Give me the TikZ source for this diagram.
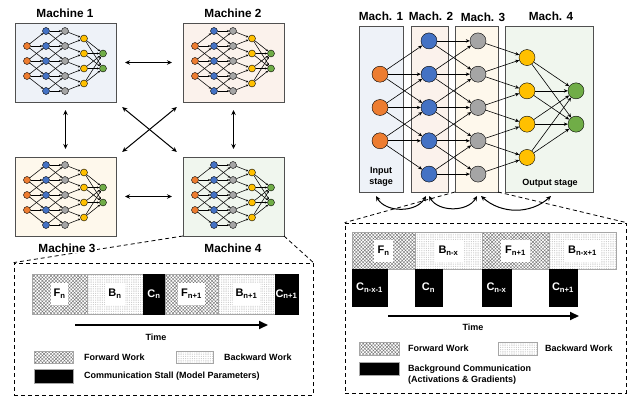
\documentclass[tikz,border=0pt]{standalone}
\usepackage{fontspec}
\setmainfont{Liberation Sans}
\usepackage{tikz}
\usetikzlibrary{arrows.meta, positioning, patterns.meta}

\definecolor{nOrange}{HTML}{ED7D31}
\definecolor{nBlue}{HTML}{4472C4}
\definecolor{nGray}{HTML}{A5A5A5}
\definecolor{nYellow}{HTML}{FFC000}
\definecolor{nGreen}{HTML}{70AD47}
\definecolor{bgBlue}{HTML}{EEF2F8}
\definecolor{bgPink}{HTML}{FBF2EC}
\definecolor{bgYellow}{HTML}{FEF8EC}
\definecolor{bgGreen}{HTML}{F0F6EE}
\definecolor{boxLine}{HTML}{505050}

\tikzset{
  neuron/.style={circle, draw=black, line width=0.4pt, inner sep=0pt},
  smalllink/.style={-{Stealth[length=2.4pt,width=2.2pt]}, line width=0.55pt},
  biglink/.style={-{Stealth[length=4pt,width=3.5pt]}, line width=0.6pt},
}

% one network: name prefix, origin, column step, row step, node size, link style
\newcommand{\drawnet}[6]{%
  \begin{scope}[shift={#2}, x=#3, y=-#4]
    \foreach \r [count=\i] in {-1,0,1}
      \node[neuron, fill=nOrange, minimum size=#5] (#1o\i) at (0,\r) {};
    \foreach \r [count=\i] in {-2,...,2}
      \node[neuron, fill=nBlue, minimum size=#5] (#1b\i) at (1,\r) {};
    \foreach \r [count=\i] in {-2,...,2}
      \node[neuron, fill=nGray, minimum size=#5] (#1g\i) at (2,\r) {};
    \foreach \r [count=\i] in {-1.5,-0.5,0.5,1.5}
      \node[neuron, fill=nYellow, minimum size=#5] (#1y\i) at (3,\r) {};
    \foreach \r [count=\i] in {-0.5,0.5}
      \node[neuron, fill=nGreen, minimum size=#5] (#1n\i) at (4,\r) {};
    \foreach \i in {1,2,3}
      \foreach \d in {0,1,2} {
        \pgfmathtruncatemacro\j{\i+\d}
        \draw[#6] (#1o\i) -- (#1b\j);
      }
    \foreach \i in {1,...,5}
      \foreach \j in {1,...,5} {
        \pgfmathtruncatemacro\gap{abs(\i-\j)}
        \ifnum\gap<2 \draw[#6] (#1b\i) -- (#1g\j); \fi
      }
    \foreach \i in {1,...,5}
      \foreach \j in {1,...,4} {
        \pgfmathtruncatemacro\gap{\i-\j}
        \ifnum\gap>-1 \ifnum\gap<2 \draw[#6] (#1g\i) -- (#1y\j); \fi\fi
      }
    \foreach \i in {1,...,4}
      \foreach \j in {1,2}
        \draw[#6] (#1y\i) -- (#1n\j);
  \end{scope}}

\begin{document}
\begin{tikzpicture}[x=1pt, y=-1pt,
    title/.style={font=\bfseries\fontsize{11.8}{13}\selectfont, inner sep=1pt},
    txt/.style={font=\bfseries\fontsize{9}{11}\selectfont, inner sep=1pt},
    mbox/.style={draw=boxLine, line width=0.9pt, inner sep=0pt, outer sep=0pt,
      minimum width=101pt, minimum height=79pt},
    stagebox/.style={draw=boxLine, line width=0.9pt, inner sep=0pt, outer sep=0pt,
      minimum height=166pt},
    biarr/.style={{Stealth[length=5pt,width=4.5pt]}-{Stealth[length=5pt,width=4.5pt]},
      line width=1pt},
    zoomline/.style={dash pattern=on 4pt off 3pt, line width=0.8pt},
    seg/.style={draw=gray!70, line width=0.4pt, inner sep=0pt, outer sep=0pt},
    fwd/.style={seg, pattern={Hatch[angle=45,distance=2.4pt,line width=0.4pt]},
      pattern color=black!55},
    bwd/.style={seg, pattern={Dots[distance=1.8pt,radius=0.32pt]}, pattern color=black!45},
    stall/.style={seg, draw=black, fill=black, text=white,
      font=\bfseries\fontsize{11}{12}\selectfont},
    seglab/.style={fill=white, inner sep=3pt, minimum height=22pt,
      font=\bfseries\fontsize{11}{12}\selectfont},
    timearr/.style={-{Triangle[length=9pt,width=8pt]}, line width=2pt},
  ]
  \useasboundingbox (0,0) rectangle (631,398);

  % ---- left: four machines, data parallel
  \node[mbox, fill=bgBlue]   (m1) at (65.5,62.5)  {};
  \node[mbox, fill=bgPink]   (m2) at (233.5,62.5) {};
  \node[mbox, fill=bgYellow] (m3) at (65.5,196.5) {};
  \node[mbox, fill=bgGreen]  (m4) at (233.5,196.5) {};
  \drawnet{sa}{(27,61)}{19pt}{15pt}{7pt}{smalllink}
  \drawnet{sb}{(195,61)}{19pt}{15pt}{7pt}{smalllink}
  \drawnet{sc}{(27,195)}{19pt}{15pt}{7pt}{smalllink}
  \drawnet{sd}{(195,195)}{19pt}{15pt}{7pt}{smalllink}
  \node[title] (m1lab) at (65,13)  {Machine 1};
  \node[title] (m2lab) at (233,13) {Machine 2};

  \draw[biarr, shorten <=9pt, shorten >=11pt] (m1) -- (m2);
  \draw[biarr, shorten <=9pt, shorten >=11pt] (m3) -- (m4);
  \draw[biarr, shorten <=8pt, shorten >=8pt] (m1) -- (m3);
  \draw[biarr, shorten <=8pt, shorten >=8pt] (m2) -- (m4);
  \draw[biarr, shorten <=8pt, shorten >=8pt] (m1.south east) -- (m4.north west);
  \draw[biarr, shorten <=8pt, shorten >=8pt] (m2.south west) -- (m3.north east);

  % zoom on machine 4
  \node[draw, zoomline, minimum width=299pt, minimum height=132pt] (lzoom) at (163.5,329) {};
  \draw[zoomline] (m4.south west) -- (lzoom.north west);
  \draw[zoomline] (m4.south east) -- (lzoom.north east);
  \node[title, fill=white] (m3lab) at (67,248)  {Machine 3};
  \node[title, fill=white] (m4lab) at (233,248) {Machine 4};

  \node[fwd,   minimum width=55pt, minimum height=40pt, anchor=west] (lf1) at (32,294) {};
  \node[bwd,   minimum width=56pt, minimum height=40pt, right=0pt of lf1] (lb1) {};
  \node[stall, minimum width=22pt, minimum height=40pt, right=0pt of lb1] (lc1) {C\textsubscript{n}};
  \node[fwd,   minimum width=53pt, minimum height=40pt, right=0pt of lc1] (lf2) {};
  \node[bwd,   minimum width=57pt, minimum height=40pt, right=0pt of lf2] (lb2) {};
  \node[stall, minimum width=23pt, minimum height=40pt, right=0pt of lb2] (lc2) {C\textsubscript{n+1}};
  \node[seglab] (lf1t) at (lf1) {F\textsubscript{n}};
  \node[seglab] (lb1t) at (lb1) {B\textsubscript{n}};
  \node[seglab] (lf2t) at (lf2) {F\textsubscript{n+1}};
  \node[seglab] (lb2t) at (lb2) {B\textsubscript{n+1}};

  \coordinate (lt0) at (75,325);
  \coordinate (lt1) at (268,325);
  \draw[timearr] (lt0) -- (lt1);
  \node[txt] (ltime) at (156,337) {Time};

  \node[fwd, minimum width=39pt, minimum height=12pt] (lkf) at (53.5,357) {};
  \node[txt, anchor=west] (lkft) at (83,357) {Forward Work};
  \node[bwd, minimum width=37pt, minimum height=12pt] (lkb) at (194.5,357) {};
  \node[txt, anchor=west] (lkbt) at (223,357) {Backward Work};
  \node[seg, fill=black, minimum width=39pt, minimum height=14pt] (lkc) at (53.5,376) {};
  \node[txt, anchor=west] (lkct) at (83,376) {Communication Stall (Model Parameters)};

  % ---- right: one network split into pipeline stages
  \node[stagebox, fill=bgBlue,   minimum width=44pt] (r1) at (381,109)   {};
  \node[stagebox, fill=bgPink,   minimum width=37pt] (r2) at (429.5,109) {};
  \node[stagebox, fill=bgYellow, minimum width=43pt] (r3) at (476.5,109) {};
  \node[stagebox, fill=bgGreen,  minimum width=88pt] (r4) at (549,109)   {};
  \drawnet{bn}{(380,107.5)}{49pt}{33.3pt}{16pt}{biglink}
  \node[title] (r1lab) at (381,16) {Mach. 1};
  \node[title] (r2lab) at (431,16) {Mach. 2};
  \node[title] (r3lab) at (483,17) {Mach. 3};
  \node[title] (r4lab) at (551,16) {Mach. 4};
  \node[txt, align=center] (inlab) at (381,177) {Input\\stage};
  \node[txt] (outlab) at (550,183) {Output stage};

  % zoom on the stages
  \node[draw, zoomline, minimum width=281pt, minimum height=170pt] (rzoom) at (485.5,308) {};
  \draw[zoomline] (r3.south west) -- (rzoom.north west);
  \draw[zoomline] (r3.south east) -- (rzoom.north east);

  \coordinate (a1) at (376,196);
  \coordinate (a2) at (426,196);
  \coordinate (a3) at (429,196);
  \coordinate (a4) at (477,196);
  \coordinate (a5) at (481,196);
  \coordinate (a6) at (551,196);
  \draw[biarr] (a1) to[bend right=60] (a2);
  \draw[biarr] (a3) to[bend right=60] (a4);
  \draw[biarr] (a5) to[bend right=42] (a6);

  \node[fwd, minimum width=63pt, minimum height=37pt, anchor=west] (rf1) at (352,250.5) {};
  \node[bwd, minimum width=67pt, minimum height=37pt, right=0pt of rf1] (rb1) {};
  \node[fwd, minimum width=67pt, minimum height=37pt, right=0pt of rb1] (rf2) {};
  \node[bwd, minimum width=67pt, minimum height=37pt, right=0pt of rf2] (rb2) {};
  \node[seglab, inner sep=4pt] (rf1t) at (rf1) {F\textsubscript{n}};
  \node[seglab, inner sep=4pt] (rb1t) at (rb1) {B\textsubscript{n-x}};
  \node[seglab, inner sep=4pt] (rf2t) at (rf2) {F\textsubscript{n+1}};
  \node[seglab, inner sep=4pt] (rb2t) at (rb2) {B\textsubscript{n-x+1}};
  \node[stall, minimum width=35pt, minimum height=37pt, anchor=north west] (rc1) at (rf1.south west) {C\textsubscript{n-x-1}};
  \node[stall, minimum width=27pt, minimum height=37pt, anchor=north west] (rc2) at (rb1.south west) {C\textsubscript{n}};
  \node[stall, minimum width=29pt, minimum height=37pt, anchor=north west] (rc3) at (rf2.south west) {C\textsubscript{n-x}};
  \node[stall, minimum width=28pt, minimum height=37pt, anchor=north west] (rc4) at (rb2.south west) {C\textsubscript{n+1}};

  \coordinate (rt0) at (388,316);
  \coordinate (rt1) at (579,316);
  \draw[timearr] (rt0) -- (rt1);
  \node[txt] (rtime) at (473,327) {Time};

  \node[fwd, minimum width=40pt, minimum height=13pt] (rkf) at (379,348.5) {};
  \node[txt, anchor=west] (rkft) at (407,348) {Forward Work};
  \node[bwd, minimum width=39pt, minimum height=13pt] (rkb) at (517.5,348.5) {};
  \node[txt, anchor=west] (rkbt) at (544,348) {Backward Work};
  \node[seg, fill=black, minimum width=40pt, minimum height=13pt] (rkc) at (379,368.5) {};
  \node[txt, anchor=west, align=left] (rkct) at (407,375)
    {Background Communication\\(Activations \& Gradients)};
\end{tikzpicture}
\end{document}
